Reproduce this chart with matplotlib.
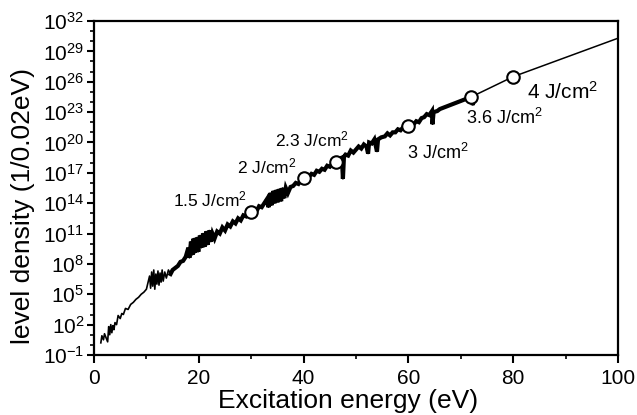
import matplotlib.pyplot as plt
import numpy as np
from matplotlib.ticker import FixedLocator, LogFormatterSciNotation

plt.rcParams['font.family'] = ['Liberation Sans', 'DejaVu Sans']
plt.rcParams['mathtext.fontset'] = 'custom'
plt.rcParams['mathtext.rm'] = 'Liberation Sans'
plt.rcParams['mathtext.it'] = 'Liberation Sans:italic'

# measured level density, log10 of states per 0.02 eV
energy = [1.3, 1.5, 1.8, 2.0, 2.6, 2.8, 3.0, 3.2, 3.4, 3.6, 3.8, 4.0, 4.3, 4.6, 5.0,
          5.3, 5.6, 6.0, 6.5, 7.0, 7.5, 8.0, 8.5, 9.0, 9.5, 10.0,
          10.6, 10.8, 11.0, 11.2, 11.4, 11.6, 11.8, 12.0, 12.2, 12.4, 12.6, 12.8,
          13.0, 13.2, 13.5, 13.8, 14.2, 14.6,
          15.0, 15.5, 16.0, 16.5, 17.0, 17.5,
          18.0, 18.2, 18.5, 18.8, 19.0, 19.3, 19.6, 19.9, 20.2, 20.5, 20.8, 21.1,
          21.4, 21.7, 22.0, 22.3, 22.6, 23.0,
          23.5, 24.0, 24.5, 25.0, 25.5, 26.0, 26.5, 27.0, 27.5, 28.0, 28.5, 29.0,
          29.5, 30.0, 30.5, 31.0, 31.5, 32.0, 32.5,
          33.0, 33.3, 33.6, 33.9, 34.2, 34.5, 34.8, 35.1, 35.4, 35.7, 36.0, 36.3,
          36.6, 37.0, 37.5, 38.0, 38.5, 39.0, 39.5, 40.0,
          40.5, 41.0, 41.5, 42.0, 42.5, 43.0, 43.5, 44.0, 44.5, 45.0, 45.5, 46.2,
          46.8, 47.3, 47.5, 47.7, 48.0, 48.5, 49.0, 49.5, 50.0, 50.5, 51.0, 51.5,
          52.0, 52.3, 52.5, 53.0, 53.5, 54.0, 54.2, 54.8, 55.5, 56.0, 56.5, 57.0,
          57.5, 58.0, 58.5, 59.0, 60.0,
          60.5, 61.0, 61.5, 62.0, 62.5, 63.0, 63.5, 64.0, 64.5, 64.6, 64.8, 65.5,
          66.0, 67.0, 68.0, 69.0, 70.0, 71.0, 72.0, 72.3, 72.5]
log_density = [0.2, 0.9, 0.5, 1.1, 0.3, 1.8, 1.0, 2.0, 1.2, 1.9, 1.5, 2.2, 2.0, 2.9, 2.6,
               3.1, 3.0, 3.6, 3.5, 4.0, 4.2, 4.5, 4.7, 5.0, 5.2, 5.5,
               6.8, 5.6, 7.2, 5.8, 7.4, 5.5, 7.0, 6.0, 7.3, 5.9, 7.1, 6.2,
               7.4, 6.3, 7.2, 6.6, 7.4, 7.0,
               7.4, 7.6, 7.8, 8.2, 8.3, 8.7,
               9.6, 8.6, 10.2, 8.9, 10.5, 9.1, 10.6, 9.2, 10.8, 9.6, 11.0, 9.7,
               11.2, 9.9, 11.3, 10.2, 11.0, 10.5,
               11.2, 11.0, 11.6, 11.3, 11.9, 11.7, 12.2, 12.0, 12.5, 12.3, 12.8, 12.7,
               13.1, 13.1, 13.4, 13.2, 13.7, 13.6, 14.0,
               14.4, 13.6, 15.0, 13.8, 15.2, 14.0, 15.3, 14.1, 15.4, 14.2, 15.5, 14.5,
               15.5, 15.0, 15.6, 15.7, 16.0, 15.9, 16.3, 16.5,
               16.6, 16.6, 16.9, 16.8, 17.2, 17.1, 17.4, 17.3, 17.7, 17.6, 17.9, 18.1,
               18.4, 18.5, 16.4, 18.6, 18.8, 18.7, 19.2, 19.0, 19.3, 19.6, 19.4, 19.8,
               19.6, 18.9, 20.0, 19.9, 20.3, 19.1, 20.3, 20.5, 20.6, 20.9, 20.7, 21.0,
               21.0, 21.3, 21.2, 21.5, 21.6,
               21.9, 21.8, 22.1, 22.0, 22.4, 22.5, 22.8, 22.7, 23.1, 21.8, 23.0, 23.1,
               23.3, 23.5, 23.7, 23.9, 24.1, 24.3, 24.5, 23.7, 24.5]

# extrapolated curve above the measured range
extrap_energy = [72.0, 80.0, 100.0]
extrap_log = [24.5, 26.5, 30.3]

# laser fluence marks
fluence_energy = [30.0, 40.0, 46.2, 60.0, 72.0, 80.0]
fluence_log = [13.1, 16.5, 18.1, 21.6, 24.5, 26.5]
fluence_labels = ['1.5 J/cm$^2$', '2 J/cm$^2$', '2.3 J/cm$^2$',
                  '3 J/cm$^2$', '3.6 J/cm$^2$', '4 J/cm$^2$']
label_offsets = [(-4, 13, 'right', 12.5), (-7, 11, 'right', 12.5),
                 (-24, 22, 'center', 12.5), (29, -27, 'center', 13),
                 (33, -21, 'center', 13), (49, -15, 'center', 15)]

x = np.array(energy)
y = 10.0 ** np.array(log_density)

fig = plt.figure(figsize=(6.37, 4.15), dpi=100)
ax = fig.add_axes([0.1476, 0.1446, 0.8226, 0.8048])

ax.plot(x, y, color='black', lw=1.2)
thick = x >= 14.5
ax.plot(x[thick], y[thick], color='black', lw=3.0, solid_joinstyle='miter')
ax.plot(extrap_energy, 10.0 ** np.array(extrap_log), color='black', lw=1.1)
ax.plot(fluence_energy, 10.0 ** np.array(fluence_log), 'o', ms=9,
        mfc='white', mec='black', mew=1.5, zorder=5)

for ex, ly, txt, (dx, dy, ha, fs) in zip(fluence_energy, fluence_log, fluence_labels, label_offsets):
    ax.annotate(txt, (ex, 10.0 ** ly), xytext=(dx * 0.72, dy * 0.72),
                textcoords='offset points', ha=ha, va='center', fontsize=fs)

ax.set_yscale('log')
ax.set_xlim(0, 100)
ax.set_ylim(1e-1, 1e32)
ax.yaxis.set_major_locator(FixedLocator(10.0 ** np.arange(-1, 33, 3)))
ax.yaxis.set_minor_locator(FixedLocator(10.0 ** np.arange(-1, 33, 1)))
ax.yaxis.set_major_formatter(LogFormatterSciNotation())
ax.set_xticks([0, 20, 40, 60, 80, 100])
ax.set_xticks(np.arange(10, 100, 20), minor=True)

for s in ax.spines.values():
    s.set_linewidth(1.6)
ax.tick_params(which='major', direction='out', length=5, width=1.5,
               labelsize=15, pad=2)
ax.tick_params(which='minor', direction='out', length=3, width=1.2,
               labelleft=False, labelbottom=False)
ax.tick_params(axis='x', which='major', length=6, pad=4)

ax.set_xlabel('Excitation energy (eV)', fontsize=19)
ax.set_ylabel('level density (1/0.02eV)', fontsize=19)
ax.xaxis.set_label_coords(0.485, -0.102)
ax.yaxis.set_label_coords(-0.113, 0.446)

fig.savefig('out.png', dpi=100)
